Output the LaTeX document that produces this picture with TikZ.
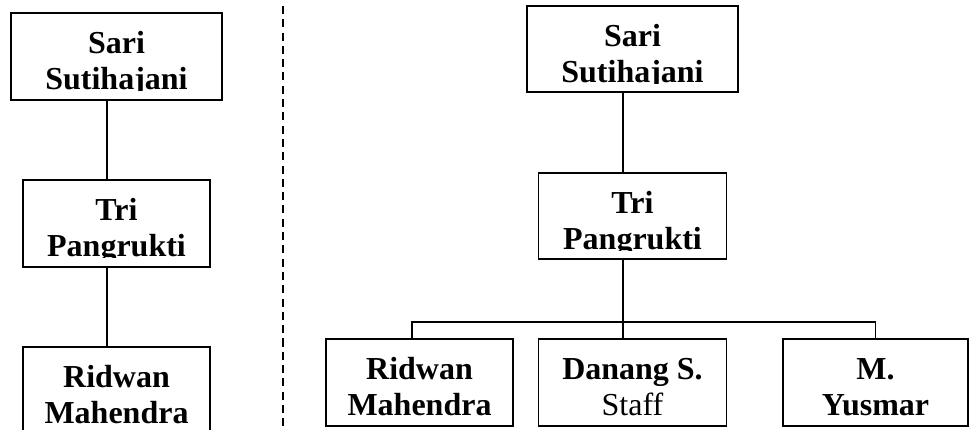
\documentclass[tikz,border=0pt]{standalone}
\usepackage{fontspec}
\setmainfont{Liberation Serif}
\usetikzlibrary{calc}

% Two-line caption of a box, cut off at the second baseline
\newcommand\boxlabel[3]{%
  \begin{scope}
    \clip ([yshift=1pt]#1.north west) rectangle ([yshift=-78pt]#1.north east);
    \node[namefont, anchor=base] (#1-a) at ([yshift=-41pt]#1.north) {#2};
    \node[namefont, anchor=base] (#1-b) at ([yshift=-77.5pt]#1.north) {#3};
  \end{scope}}

\begin{document}
\begin{tikzpicture}[x=1pt, y=-1pt,
  orgbox/.style={draw=black, line width=1.8pt, rectangle, inner sep=0pt, fill=white},
  namefont/.style={inner sep=0pt, font=\fontsize{32}{37}\selectfont\bfseries},
  link/.style={draw=black, line width=1.8pt},
  divider/.style={draw=black, line width=2pt, dash pattern=on 8pt off 5.3pt}]

  \useasboundingbox (0,0) rectangle (969,430);
  \clip (0,0) rectangle (969,430);
  \fill[white] (0,0) rectangle (969,430);

  % ---- left chart: single line of command ----
  \node[orgbox, minimum width=211pt, minimum height=87pt] (ls) at (116.5,56.5) {};
  \node[orgbox, minimum width=187pt, minimum height=87pt] (lt) at (116.5,223.5) {};
  \node[orgbox, minimum width=187pt, minimum height=87pt] (lr) at (116.5,390.5) {};

  \draw[link] ([xshift=-9.5pt]ls.south) -- ([xshift=-9.5pt]lt.north);
  \draw[link] ([xshift=-9.5pt]lt.south) -- ([xshift=-9.5pt]lr.north);

  \boxlabel{ls}{Sari}{Sutihajani}
  \boxlabel{lt}{Tri}{Pangrukti}
  \boxlabel{lr}{Ridwan}{Mahendra}

  % ---- separator ----
  \draw[divider] (283,6) -- (283,430);

  % ---- right chart: one leader over three members ----
  \node[orgbox, minimum width=211pt, minimum height=86pt] (rs) at (632.5,49) {};
  \node[orgbox, minimum width=188pt, minimum height=86pt] (rt) at (632.5,216) {};
  \node[orgbox, minimum width=187pt, minimum height=87pt] (rr) at (419.5,382.5) {};
  \node[orgbox, minimum width=188pt, minimum height=87pt] (rd) at (632.5,382.5) {};
  \node[orgbox, minimum width=185pt, minimum height=87pt] (ry) at (875.5,382.5) {};

  \draw[link] ([xshift=-9.5pt]rs.south) -- ([xshift=-9.5pt]rt.north);
  \draw[link] ([xshift=-9.5pt]rt.south) -- ([xshift=-9.5pt]rd.north);
  \draw[link] ([xshift=-7.5pt]rr.north) -- ++(0,-16) -| (ry.north);

  \boxlabel{rs}{Sari}{Sutihajani}
  \boxlabel{rt}{Tri}{Pangrukti}
  \boxlabel{rr}{Ridwan}{Mahendra}
  \boxlabel{rd}{Danang S.}{\mdseries Staff}
  \boxlabel{ry}{M.}{Yusmar}
\end{tikzpicture}
\end{document}
